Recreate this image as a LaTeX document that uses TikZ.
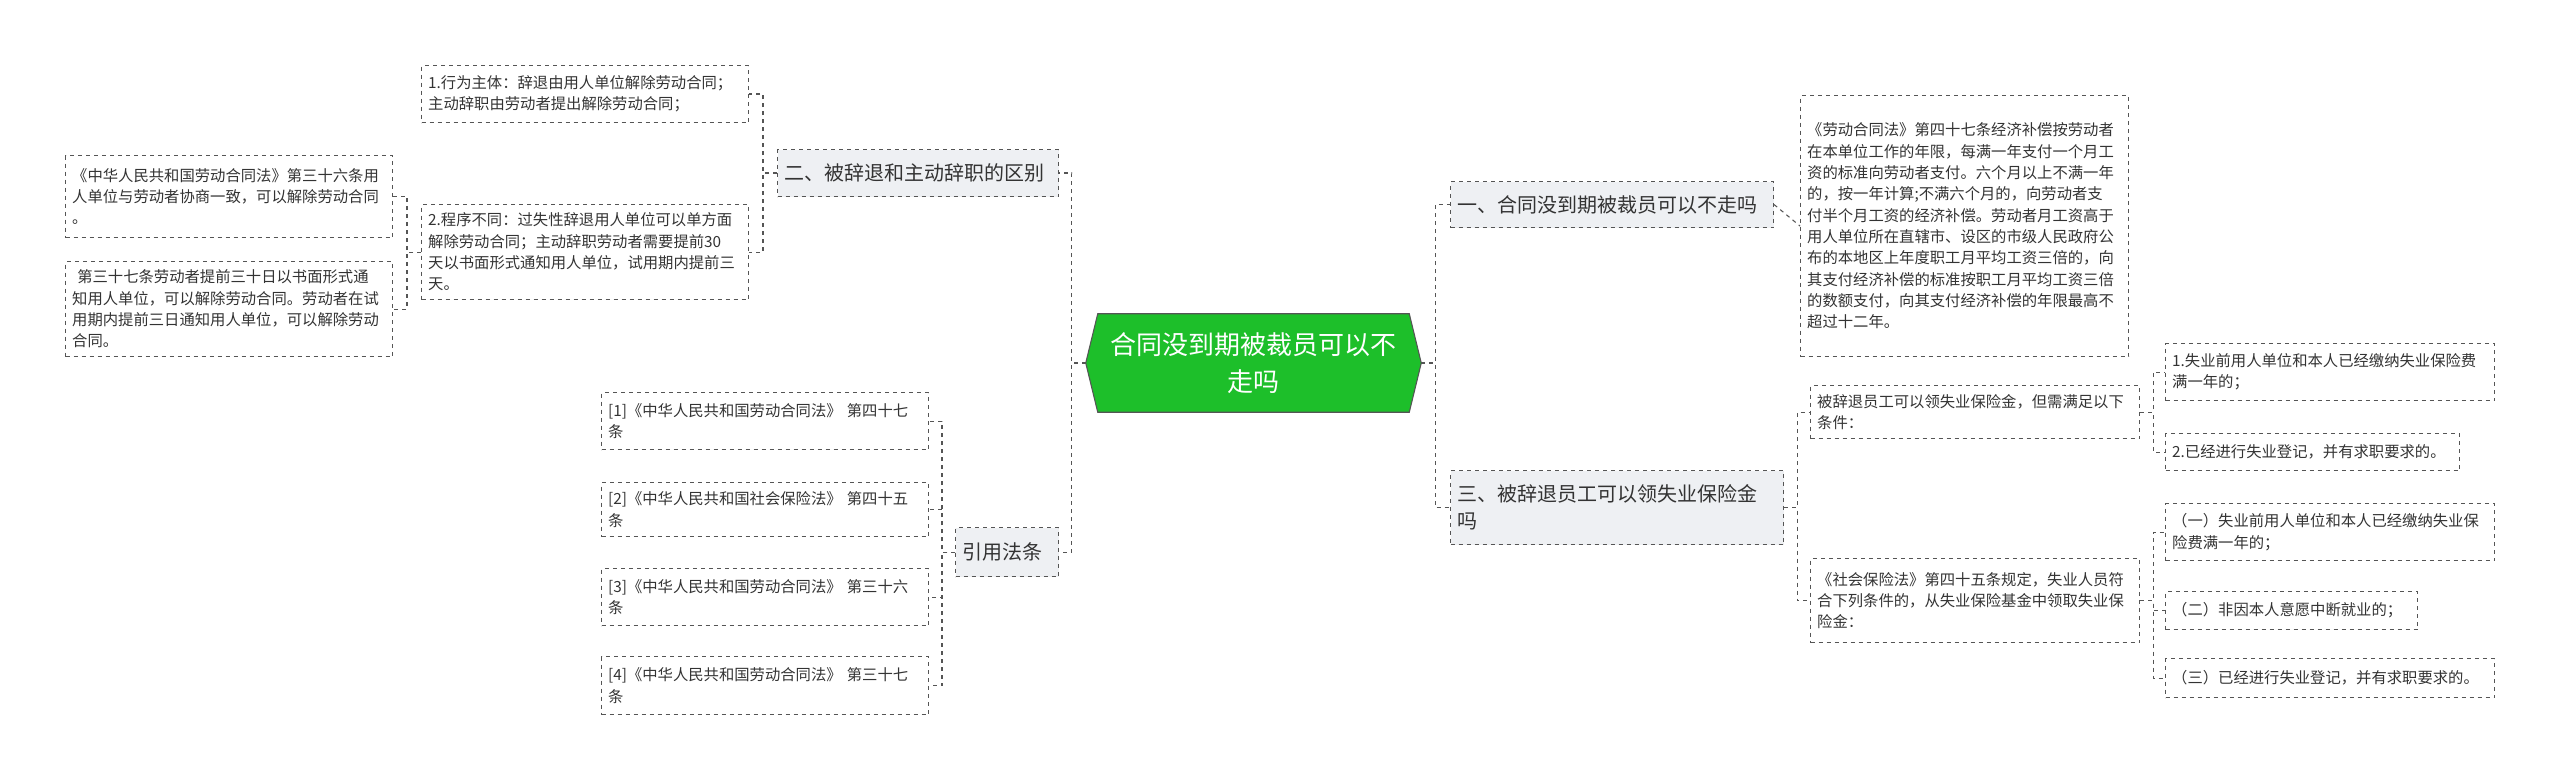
\documentclass[tikz,border=0pt]{standalone}
\usepackage{fontspec}
\setmainfont{Noto Sans CJK SC}
\usetikzlibrary{calc}
\definecolor{lc}{HTML}{555555}
\definecolor{bfill}{HTML}{EEF0F3}
\definecolor{gfill}{HTML}{1DBF2A}
\tikzset{
 x=0.75pt,y=-0.75pt,
 leaf/.style={draw=lc,dashed,line width=0.8pt,anchor=north west,align=left,inner xsep=5pt,font=\fontsize{11.5}{16}\selectfont,text=black!80},
 branch/.style={leaf,fill=bfill,font=\fontsize{15}{20}\selectfont},
 conn/.style={draw=lc,dashed,line width=0.8pt},
}
\newcommand{\lbox}[6]{\node[#1,minimum width=#4*0.75pt,minimum height=#5*0.75pt,text width=#4*0.75pt-10pt] (#6) at (#2,#3)}
\begin{document}
\begin{tikzpicture}
\useasboundingbox (0,0) rectangle (2560,781);
% center
\node[inner sep=0,minimum width=335*0.75pt,minimum height=98*0.75pt] (c) at (1253.5,363) {};
\fill[gfill,draw=lc,line width=0.8pt] (c.west) -- ($(c.north west)+(12,0)$) -- ($(c.north east)+(-12,0)$) -- (c.east) -- ($(c.south east)+(-12,0)$) -- ($(c.south west)+(12,0)$) -- cycle;
\node[text=white,align=center,font=\fontsize{19.5}{28}\selectfont] (ct) at (c) {合同没到期被裁员可以不\\走吗};
% left branch 1
\lbox{branch}{777}{149}{281}{47}{b1} {二、被辞退和主动辞职的区别};
\lbox{leaf}{421}{65}{327}{57}{a1} {1.行为主体：辞退由用人单位解除劳动合同；\\主动辞职由劳动者提出解除劳动合同；};
\lbox{leaf}{421}{204}{327}{95}{a2} {2.程序不同：过失性辞退用人单位可以单方面\\解除劳动合同；主动辞职劳动者需要提前30\\天以书面形式通知用人单位，试用期内提前三\\天。};
\lbox{leaf}{65}{155}{327}{82}{a3} {《中华人民共和国劳动合同法》第三十六条用\\人单位与劳动者协商一致，可以解除劳动合同\\。};
\lbox{leaf}{65}{261}{327}{95}{a4} {\ 第三十七条劳动者提前三十日以书面形式通\\知用人单位，可以解除劳动合同。劳动者在试\\用期内提前三日通知用人单位，可以解除劳动\\合同。};
% left branch 2
\lbox{branch}{955}{527}{103}{49}{b2} {引用法条};
\lbox{leaf}{601}{392}{327}{57}{r1} {[1]《中华人民共和国劳动合同法》 第四十七\\条};
\lbox{leaf}{601}{482}{327}{54}{r2} {[2]《中华人民共和国社会保险法》 第四十五\\条};
\lbox{leaf}{601}{568}{327}{57}{r3} {[3]《中华人民共和国劳动合同法》 第三十六\\条};
\lbox{leaf}{601}{656}{327}{58}{r4} {[4]《中华人民共和国劳动合同法》 第三十七\\条};
% right branch 1
\lbox{branch}{1450}{181}{323}{46}{b3} {一、合同没到期被裁员可以不走吗};
\lbox{leaf}{1800}{95}{328}{261}{d1} {《劳动合同法》第四十七条经济补偿按劳动者\\在本单位工作的年限，每满一年支付一个月工\\资的标准向劳动者支付。六个月以上不满一年\\的，按一年计算;不满六个月的，向劳动者支\\付半个月工资的经济补偿。劳动者月工资高于\\用人单位所在直辖市、设区的市级人民政府公\\布的本地区上年度职工月平均工资三倍的，向\\其支付经济补偿的标准按职工月平均工资三倍\\的数额支付，向其支付经济补偿的年限最高不\\超过十二年。};
% right branch 2
\lbox{branch}{1450}{470}{333}{74}{b4} {三、被辞退员工可以领失业保险金\\吗};
\lbox{leaf}{1810}{385}{329}{53}{e1} {被辞退员工可以领失业保险金，但需满足以下\\条件：};
\lbox{leaf}{1810}{558}{329}{84}{e2} {《社会保险法》第四十五条规定，失业人员符\\合下列条件的，从失业保险基金中领取失业保\\险金：};
\lbox{leaf}{2165}{343}{329}{57}{f1} {1.失业前用人单位和本人已经缴纳失业保险费\\满一年的；};
\lbox{leaf}{2165}{433}{294}{37}{f2} {2.已经进行失业登记，并有求职要求的。};
\lbox{leaf}{2165}{503}{329}{57}{g1} {（一）失业前用人单位和本人已经缴纳失业保\\险费满一年的；};
\lbox{leaf}{2165}{591}{252}{38}{g2} {（二）非因本人意愿中断就业的；};
\lbox{leaf}{2165}{658}{329}{39}{g3} {（三）已经进行失业登记，并有求职要求的。};
% connectors
\foreach \t in {b1,b2} \draw[conn] (c.west) -- ++(-14,0) |- (\t.east);
\foreach \t in {b3,b4} \draw[conn] (c.east) -- ++(14,0) |- (\t.west);
\foreach \t in {a1,a2} \draw[conn] (b1.west) -- ++(-14,0) |- (\t.east);
\foreach \t in {a3,a4} \draw[conn] (a2.west) -- ++(-14,0) |- (\t.east);
\foreach \t in {r1,r2,r3,r4} \draw[conn] (b2.west) -- ++(-13,0) |- (\t.east);
\draw[conn] (b3.east) -- (d1.west);
\foreach \t in {e1,e2} \draw[conn] (b4.east) -- ++(13,0) |- (\t.west);
\foreach \t in {f1,f2} \draw[conn] (e1.east) -- ++(13,0) |- (\t.west);
\foreach \t in {g1,g2,g3} \draw[conn] (e2.east) -- ++(13,0) |- (\t.west);
\end{tikzpicture}
\end{document}
